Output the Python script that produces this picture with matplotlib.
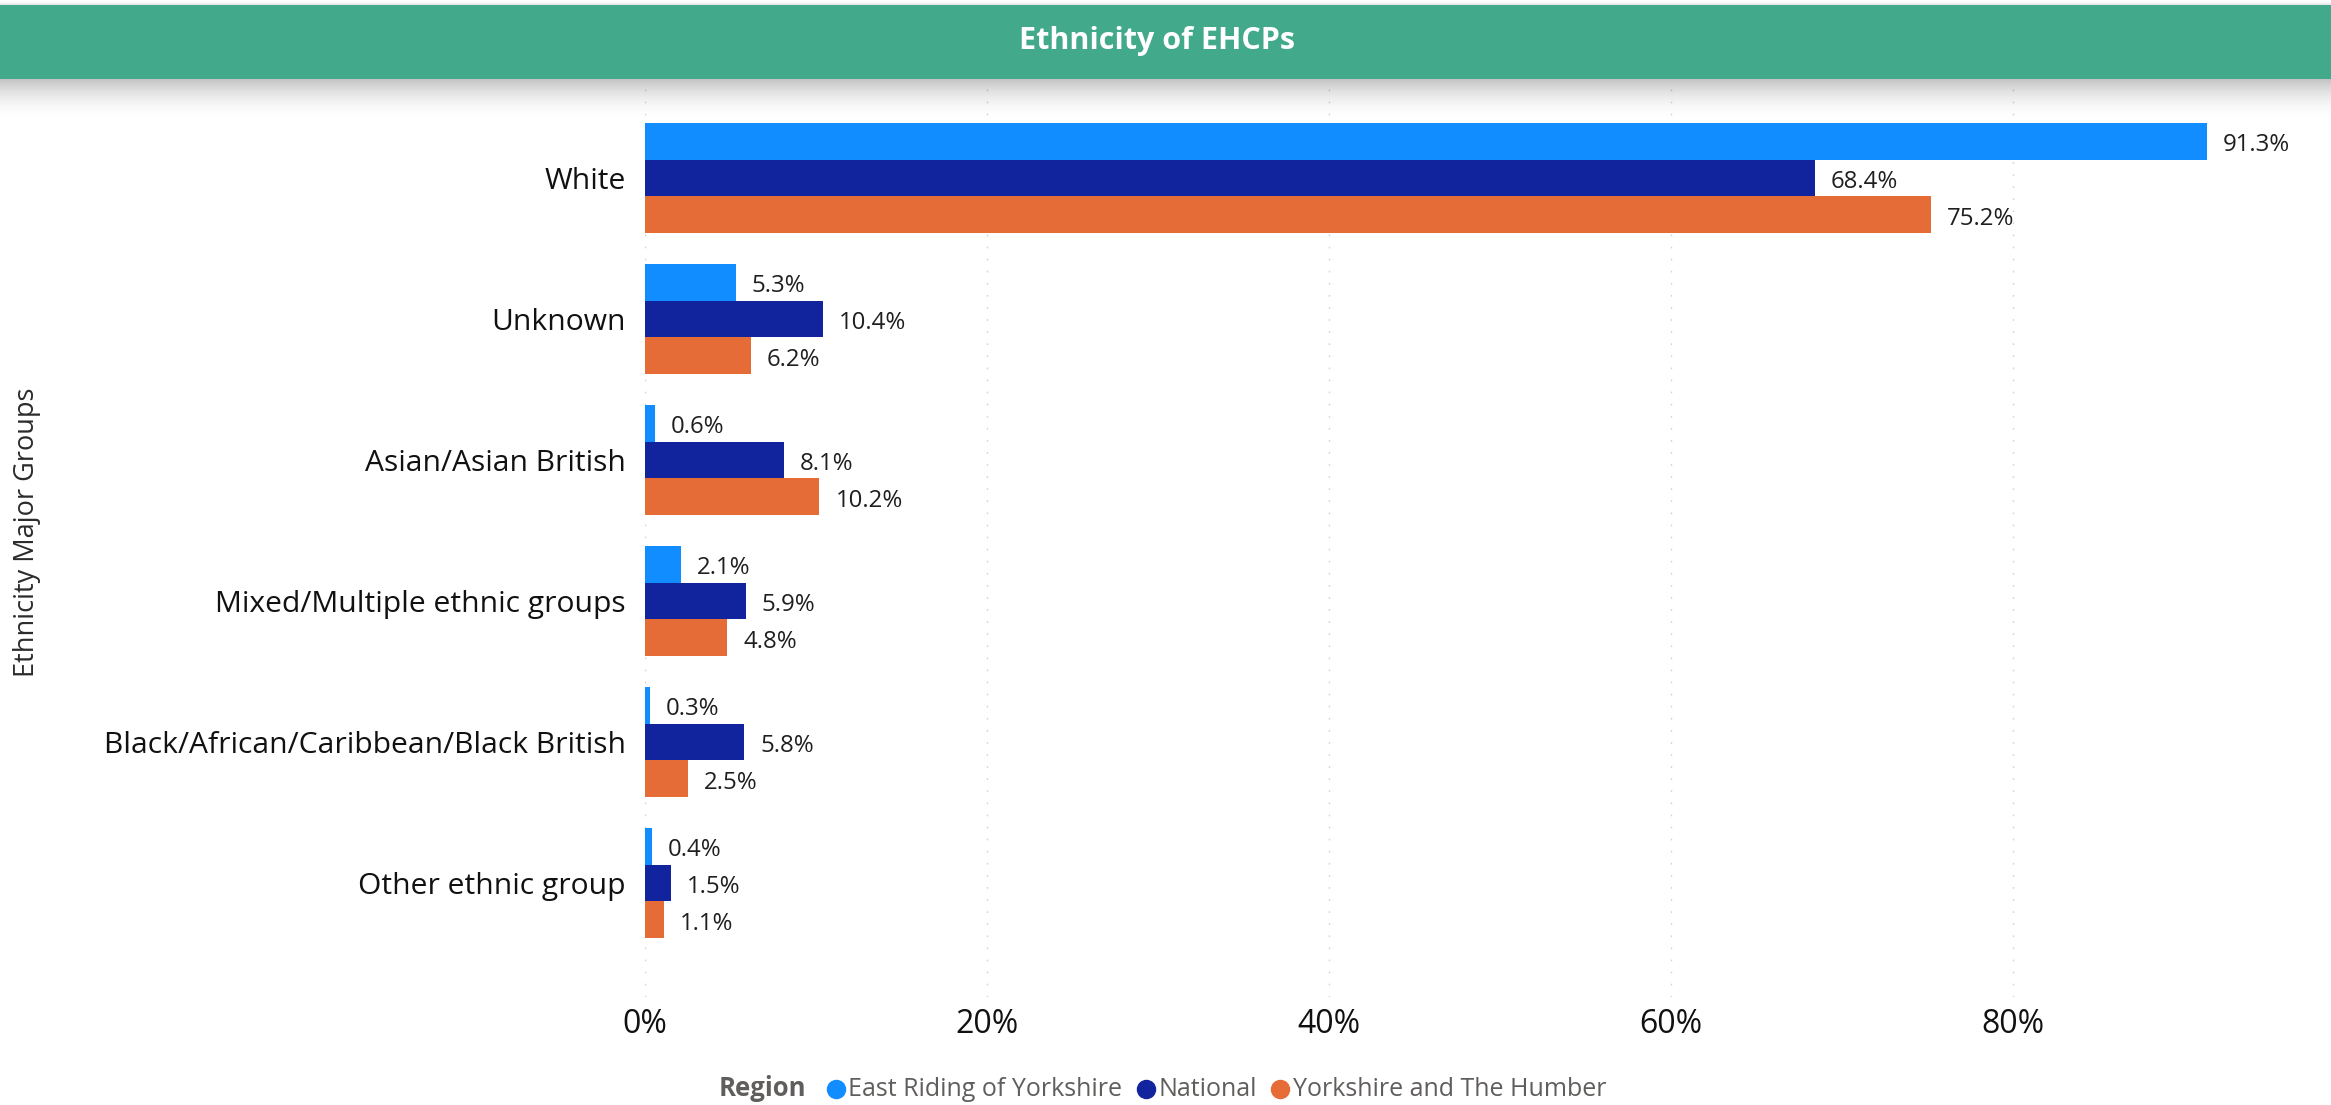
import matplotlib
matplotlib.use("Agg")
import matplotlib.pyplot as plt
import numpy as np
from matplotlib.patches import Rectangle
from matplotlib.lines import Line2D

categories = ["White", "Unknown", "Asian/Asian British", "Mixed/Multiple ethnic groups",
              "Black/African/Caribbean/Black British", "Other ethnic group"]
series_names = ["East Riding of Yorkshire", "National", "Yorkshire and The Humber"]
east_riding = [91.3, 5.3, 0.6, 2.1, 0.3, 0.4]
national = [68.4, 10.4, 8.1, 5.9, 5.8, 1.5]
yorkshire_humber = [75.2, 6.2, 10.2, 4.8, 2.5, 1.1]
x_ticks = [0, 20, 40, 60, 80]
x_tick_labels = ["0%", "20%", "40%", "60%", "80%"]
series_values = [east_riding, national, yorkshire_humber]
colors = ["#118DFF", "#12239E", "#E66C37"]

plt.rcParams['font.family'] = ['Open Sans', 'DejaVu Sans']

W, H = 2331, 1105
dpi = 100
fig = plt.figure(figsize=(W / dpi, H / dpi), dpi=dpi)
fig.patch.set_facecolor("white")


def px(x0, y0, x1, y1):
    return [x0 / W, 1 - y1 / H, (x1 - x0) / W, (y1 - y0) / H]


TXT = "#1f1f1f"
ax = fig.add_axes(px(645, 80, 2304, 997))
ax.set_xlim(0, 97)
ax.set_ylim(5.809, -0.695)
bh = 0.26
pos = np.arange(len(categories))
for j, vals in enumerate(series_values):
    y = pos + (j - 1) * bh
    ax.barh(y, vals, height=bh, color=colors[j], zorder=2)
    for yy, v in zip(y, vals):
        ax.annotate(f"{v:.1f}%", xy=(v, yy), xytext=(11.5, -3), textcoords="offset points",
                    ha="left", va="center", fontsize=17.3, color=TXT)

ax.set_yticks(pos)
ax.set_yticklabels(categories, fontsize=21.6, color="#111111")
ax.set_xticks(x_ticks)
ax.set_xticklabels(x_tick_labels, fontsize=23, color="#111111")
ax.tick_params(axis="both", length=0)
ax.tick_params(axis="y", pad=14)
ax.tick_params(axis="x", pad=8)
for s in ax.spines.values():
    s.set_visible(False)
for t in x_ticks:
    ax.axvline(t, color="#d2d2d2", lw=1.0, linestyle=(0, (1.2, 7.5)), zorder=1)

# Title bar
fig.add_artist(Rectangle((0, 1 - 79 / H), 1, 74 / H, transform=fig.transFigure,
                         facecolor="#43A98B", edgecolor="none", zorder=5))
fig.text(1157 / W, 1 - 41 / H, "Ethnicity of EHCPs", ha="center", va="center",
         fontsize=22, fontweight="bold", color="white", zorder=6)

# Shadow under title bar
sh = fig.add_axes(px(0, 79, W, 122), zorder=4)
sh.axis("off")
n = 100
t = np.linspace(0, 1, n)
alpha = 0.25 * (1 - t) ** 2
img = np.zeros((n, 1, 4))
img[:, 0, 3] = alpha
sh.imshow(img, aspect="auto", extent=(0, 1, 1, 0))
sh.set_xlim(0, 1)
sh.set_ylim(1, 0)
sh2 = fig.add_axes(px(0, 0, W, 5), zorder=4)
sh2.axis("off")
t2 = np.linspace(0, 1, 20)
img2 = np.zeros((20, 1, 4))
img2[:, 0, 3] = 0.12 * t2 ** 2
sh2.imshow(img2, aspect="auto", extent=(0, 1, 1, 0))

# Y axis label
fig.text(27 / W, 1 - 532 / H, "Ethnicity Major Groups", rotation=90, ha="center",
         va="center", fontsize=19.5, color="#2b2b2b")

# Legend (manual)
fig.canvas.draw()
r = fig.canvas.get_renderer()
ly = 1 - 1089 / H
x = 719
tt = fig.text(x / W, ly, "Region", ha="left", va="center", fontsize=18.5,
              fontweight="bold", color="#605E5C")
x = tt.get_window_extent(r).x1 + 29
for name, c in zip(series_names, colors):
    fig.add_artist(Line2D([x / W], [ly], marker="o", markersize=13, color=c,
                          transform=fig.transFigure, linestyle="none"))
    tx = fig.text((x + 13) / W, ly, name, ha="left", va="center", fontsize=18, color="#605E5C")
    x = tx.get_window_extent(r).x1 + 23

fig.savefig("out.png", dpi=dpi, facecolor="white")
